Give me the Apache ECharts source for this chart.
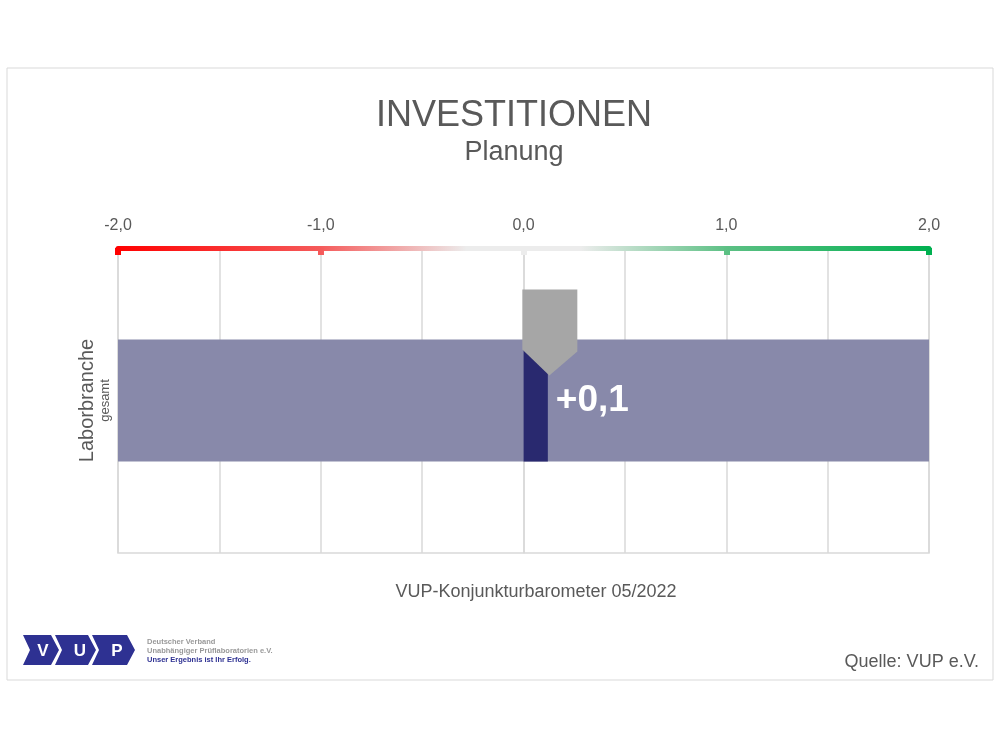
<!DOCTYPE html>
<html style="height: 100%">
    <head>
        <title>Investitionen Planung</title>
        <meta charset="utf-8">
    </head>
    <body style="height: 100%; margin: 0; background: #fff">
        <div id="container" style="width: 1000px; height: 750px"></div>

        <script type="text/javascript" src="https://cdn.jsdelivr.net/npm/echarts@6.0.0/dist/echarts.min.js"></script>
        <script type="text/javascript">
            // Daten
            var categories = ['Laborbranche'];
            var subLabels = ['gesamt'];
            var values = [0.12];
            var bandRange = [-2, 2];
            var tickLabels = ['-2,0', '-1,0', '0,0', '1,0', '2,0'];

            var dom = document.getElementById("container");
            var myChart = echarts.init(dom);

            var font = 'Liberation Sans, Arial, sans-serif';
            var txt = '#595959';
            var stops = [
                { offset: 0, color: '#ff0000' },
                { offset: 0.25, color: '#f55a5a' },
                { offset: 0.43, color: '#ececec' },
                { offset: 0.57, color: '#ececec' },
                { offset: 0.75, color: '#5cc084' },
                { offset: 1, color: '#00b050' }
            ];
            var lineGrad = new echarts.graphic.LinearGradient(0, 0, 1, 0, stops);
            var tickGrad = new echarts.graphic.LinearGradient(118, 0, 929, 0, stops, true);

            function fmtLabel(v) {
                if (Math.abs(v - Math.round(v)) > 1e-9) return '';
                return tickLabels[Math.round(v) + 2];
            }

            var option = {
                animation: false,
                textStyle: { fontFamily: font },
                grid: { left: 118, right: 71, top: 248, bottom: 197, show: true, borderColor: '#d9d9d9', borderWidth: 1.5 },
                xAxis: [
                    {
                        type: 'value', position: 'top', min: -2, max: 2, interval: 0.5,
                        axisLine: { show: true, lineStyle: { color: lineGrad, width: 5 } },
                        axisTick: { show: false },
                        axisLabel: { formatter: fmtLabel, color: txt, fontSize: 16, margin: 14, fontFamily: font },
                        splitLine: { show: true, lineStyle: { color: '#d9d9d9', width: 1.5 } }
                    },
                    {
                        type: 'value', position: 'top', min: -2, max: 2, interval: 1,
                        axisLine: { show: false },
                        axisTick: { show: true, inside: true, length: 7, lineStyle: { color: tickGrad, width: 6 } },
                        axisLabel: { show: false },
                        splitLine: { show: false }
                    }
                ],
                yAxis: {
                    type: 'category', data: categories,
                    axisLine: { show: true, lineStyle: { color: '#d9d9d9', width: 1.5 } },
                    axisTick: { show: false },
                    axisLabel: {
                        rotate: 90, margin: 6,
                        formatter: function (v, i) {
                            return '{a|' + v + '}\n{b|' + subLabels[i] + '}';
                        },
                        rich: {
                            a: { fontSize: 20, color: txt, fontFamily: font, lineHeight: 21 },
                            b: { fontSize: 13, color: txt, fontFamily: font, lineHeight: 14 }
                        }
                    }
                },
                series: [
                    {
                        type: 'bar', data: [bandRange[1]], barWidth: '40%', barGap: '-100%', silent: true,
                        itemStyle: { color: '#8889aa' }, z: 1
                    },
                    {
                        type: 'bar', data: [bandRange[0]], barWidth: '40%', barGap: '-100%', silent: true,
                        itemStyle: { color: '#8889aa' }, z: 1
                    },
                    {
                        type: 'bar', data: values, barWidth: '40%', barGap: '-100%',
                        itemStyle: { color: '#29296f' }, z: 2,
                        label: {
                            show: true, position: 'right', distance: 8,
                            color: '#fff', fontSize: 37, fontWeight: 'bold', fontFamily: font,
                            formatter: function (p) {
                                return (p.value >= 0 ? '+' : '') + p.value.toFixed(1).replace('.', ',');
                            }
                        }
                    },
                    {
                        type: 'scatter', data: values.map(function (v, i) { return [v, i]; }),
                        symbol: 'path://M0,0 L55,0 L55,62 L27,86 L0,60 Z',
                        symbolSize: [55, 86], symbolOffset: [2, -68],
                        itemStyle: { color: '#a6a6a6', opacity: 1 }, z: 5, silent: true
                    }
                ],
                graphic: [
                    { type: 'rect', shape: { x: 7, y: 68, width: 986, height: 612 }, style: { fill: 'none', stroke: '#d9d9d9', lineWidth: 1 }, z: -10 },
                    { type: 'text', style: { text: 'INVESTITIONEN', x: 514, y: 116, textAlign: 'center', textVerticalAlign: 'middle', fontSize: 36, fill: txt, fontFamily: font } },
                    { type: 'text', style: { text: 'Planung', x: 514, y: 153, textAlign: 'center', textVerticalAlign: 'middle', fontSize: 27, fill: txt, fontFamily: font } },
                    { type: 'text', style: { text: 'VUP-Konjunkturbarometer 05/2022', x: 536, y: 592, textAlign: 'center', textVerticalAlign: 'middle', fontSize: 18, fill: txt, fontFamily: font } },
                    { type: 'text', style: { text: 'Quelle: VUP e.V.', x: 979, y: 662, textAlign: 'right', textVerticalAlign: 'middle', fontSize: 18, fill: txt, fontFamily: font } },
                    // Logo
                    { type: 'polygon', shape: { points: [[23, 635], [51, 635], [59, 650], [51, 665], [23, 665], [30, 650]] }, style: { fill: '#2e3192' } },
                    { type: 'polygon', shape: { points: [[55, 635], [88, 635], [96, 650], [88, 665], [55, 665], [62, 650]] }, style: { fill: '#2e3192' } },
                    { type: 'polygon', shape: { points: [[92, 635], [127, 635], [135, 650], [127, 665], [92, 665], [99, 650]] }, style: { fill: '#2e3192' } },
                    { type: 'text', style: { text: 'V', x: 43, y: 651, textAlign: 'center', textVerticalAlign: 'middle', fontSize: 17, fontWeight: 'bold', fill: '#fff', fontFamily: font } },
                    { type: 'text', style: { text: 'U', x: 80, y: 651, textAlign: 'center', textVerticalAlign: 'middle', fontSize: 17, fontWeight: 'bold', fill: '#fff', fontFamily: font } },
                    { type: 'text', style: { text: 'P', x: 117, y: 651, textAlign: 'center', textVerticalAlign: 'middle', fontSize: 17, fontWeight: 'bold', fill: '#fff', fontFamily: font } },
                    { type: 'text', style: { text: 'Deutscher Verband', x: 147, y: 642, textVerticalAlign: 'middle', fontSize: 7.5, fontWeight: 'bold', fill: '#999', fontFamily: font } },
                    { type: 'text', style: { text: 'Unabhängiger Prüflaboratorien e.V.', x: 147, y: 651, textVerticalAlign: 'middle', fontSize: 7.5, fontWeight: 'bold', fill: '#999', fontFamily: font } },
                    { type: 'text', style: { text: 'Unser Ergebnis ist Ihr Erfolg.', x: 147, y: 660, textVerticalAlign: 'middle', fontSize: 7.5, fontWeight: 'bold', fill: '#2e3192', fontFamily: font } }
                ]
            };

            myChart.setOption(option);

            window.onresize = function () {
                myChart.resize();
            }
        </script>
    </body>
</html>
